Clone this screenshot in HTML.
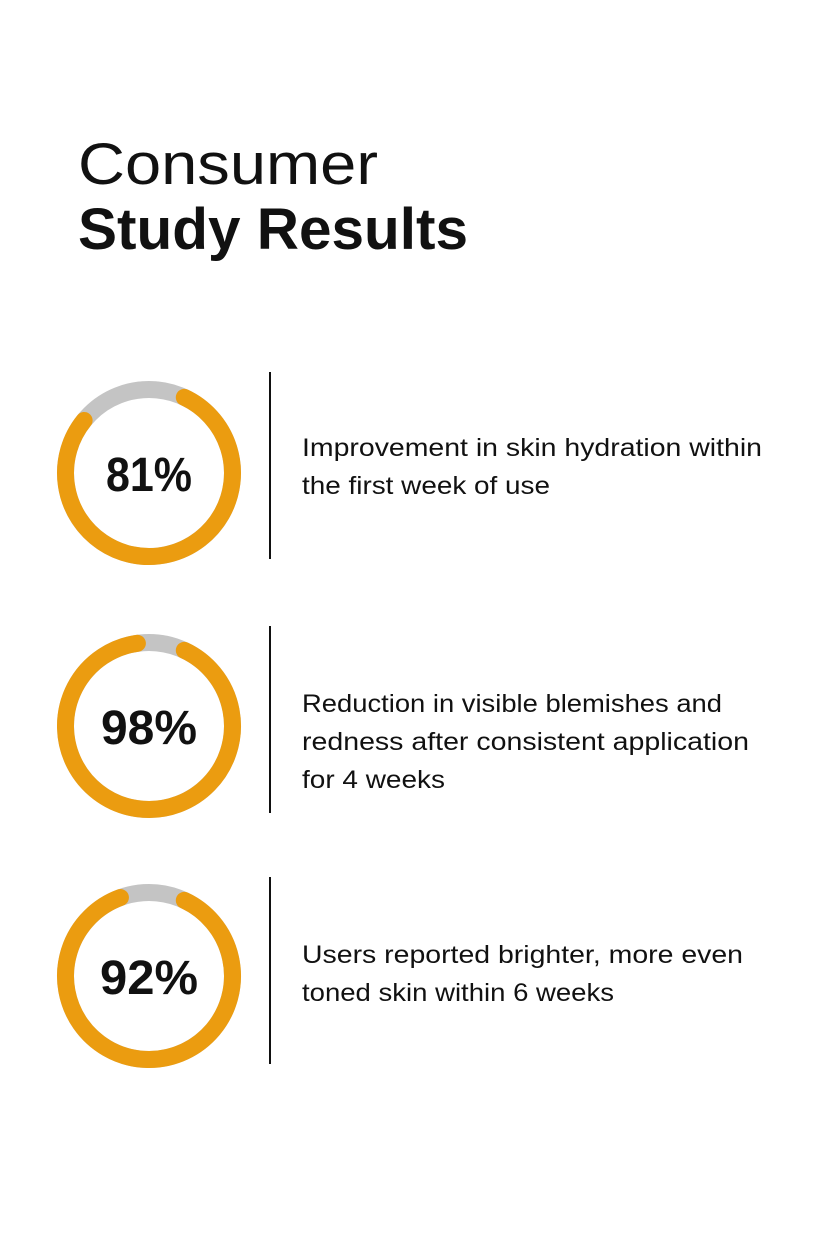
<!DOCTYPE html>
<html><head><meta charset="utf-8"><style>
html,body{margin:0;padding:0;background:#fff;}
svg{display:block;}
text{font-family:"Liberation Sans",sans-serif;}
</style></head><body>
<svg width="840" height="1260" viewBox="0 0 840 1260" xmlns="http://www.w3.org/2000/svg">
<rect width="840" height="1260" fill="#fff"/>
<text x="78" y="184" font-size="58" fill="#111" textLength="300" lengthAdjust="spacingAndGlyphs">Consumer</text>
<text x="78" y="249" font-size="58" font-weight="bold" fill="#111" textLength="390" lengthAdjust="spacingAndGlyphs">Study Results</text>

<g fill="none" stroke-width="17" stroke-linecap="round">
<circle cx="149" cy="473" r="83.5" stroke="#c4c4c4"/>
<path id="a1" stroke="#eb9c10"/>
<circle cx="149" cy="726" r="83.5" stroke="#c4c4c4"/>
<path id="a2" stroke="#eb9c10"/>
<circle cx="149" cy="976" r="83.5" stroke="#c4c4c4"/>
<path id="a3" stroke="#eb9c10"/>
</g>
<g font-size="48" font-weight="bold" fill="#111" text-anchor="middle">
<text x="149" y="491" textLength="86" lengthAdjust="spacingAndGlyphs">81%</text>
<text x="149" y="744" textLength="96" lengthAdjust="spacingAndGlyphs">98%</text>
<text x="149" y="994" textLength="98" lengthAdjust="spacingAndGlyphs">92%</text>
</g>
<g stroke="#111" stroke-width="2">
<line x1="270" y1="372" x2="270" y2="559"/>
<line x1="270" y1="626" x2="270" y2="813"/>
<line x1="270" y1="877" x2="270" y2="1064"/>
</g>
<g font-size="25" fill="#111" lengthAdjust="spacingAndGlyphs">
<text x="302" y="456" textLength="460" lengthAdjust="spacingAndGlyphs">Improvement in skin hydration within</text>
<text x="302" y="494" textLength="248" lengthAdjust="spacingAndGlyphs">the first week of use</text>
<text x="302" y="712" textLength="420" lengthAdjust="spacingAndGlyphs">Reduction in visible blemishes and</text>
<text x="302" y="750" textLength="447" lengthAdjust="spacingAndGlyphs">redness after consistent application</text>
<text x="302" y="788" textLength="143" lengthAdjust="spacingAndGlyphs">for 4 weeks</text>
<text x="302" y="963" textLength="441" lengthAdjust="spacingAndGlyphs">Users reported brighter, more even</text>
<text x="302" y="1001" textLength="312" lengthAdjust="spacingAndGlyphs">toned skin within 6 weeks</text>
</g>
<script>
function arc(id,cx,cy,r,a0,a1){
 function p(a){a=(a-90)*Math.PI/180;return [cx+r*Math.cos(a),cy+r*Math.sin(a)];}
 var s=p(a0),e=p(a1),large=(a1-a0)>180?1:0;
 document.getElementById(id).setAttribute('d','M'+s[0]+' '+s[1]+' A'+r+' '+r+' 0 '+large+' 1 '+e[0]+' '+e[1]);
}
arc('a1',149,473,83.5,25,309);
arc('a2',149,726,83.5,25,352);
arc('a3',149,976,83.5,25,340);
</script>
</svg>
</body></html>
